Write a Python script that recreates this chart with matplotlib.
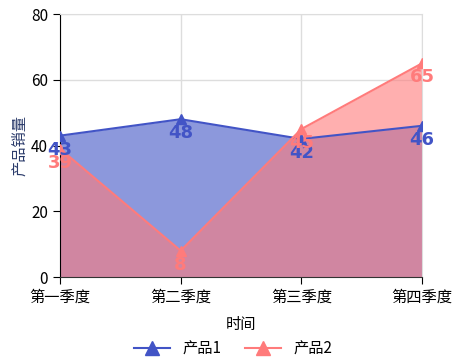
import matplotlib
matplotlib.use("Agg")
import matplotlib.pyplot as plt

plt.rcParams['font.family'] = ['Noto Sans CJK SC', 'DejaVu Sans']

quarters = ["第一季度", "第二季度", "第三季度", "第四季度"]
product1 = [43, 48, 42, 46]
product2 = [39, 8, 45, 65]
series_names = ["产品1", "产品2"]

BLUE = "#4254c6"
RED = "#ff7b7b"

fig = plt.figure(figsize=(4.66, 3.62), dpi=100)
ax = fig.add_axes([0.1288, 0.2348, 0.7768, 0.7265])

x = list(range(len(quarters)))

ax.fill_between(x, product1, color="#8c98dc", zorder=1, linewidth=0)
ax.fill_between(x, product2, color=RED, alpha=0.6, zorder=2, linewidth=0)
ax.plot(x, product1, color=BLUE, lw=1.5, marker="^", ms=7, label=series_names[0], zorder=3)
ax.plot(x, product2, color=RED, lw=1.5, marker="^", ms=7, label=series_names[1], zorder=4)

# 数据标签：点的下方
for xi, v in zip(x, product1):
    ax.text(xi, v - 1.5, str(v), color=BLUE, fontsize=13, fontweight="heavy",
            ha="center", va="top", family="DejaVu Sans", zorder=5)
for xi, v in zip(x, product2):
    ax.text(xi, v - 1.5, str(v), color=RED, fontsize=13, fontweight="heavy",
            ha="center", va="top", family="DejaVu Sans", zorder=6)

ax.set_xlim(0, 3)
ax.set_ylim(0, 80)
ax.set_yticks([0, 20, 40, 60, 80])
ax.set_xticks(x)
ax.set_xticklabels(quarters, fontsize=11)
ax.tick_params(axis="y", labelsize=11, length=5)
ax.tick_params(axis="x", length=5)
ax.grid(True, color="#dddddd", lw=1, zorder=0)
ax.set_axisbelow(True)

for side in ("top", "right"):
    ax.spines[side].set_color("#dddddd")
ax.spines["left"].set_color("black")
ax.spines["bottom"].set_color("#333333")

ax.set_xlabel("时间", fontsize=11, labelpad=7)
ax.set_ylabel("产品销量", fontsize=11, color="#2a3a6a", labelpad=2)

fig.legend(loc="lower center", ncol=2, frameon=False, fontsize=11,
           bbox_to_anchor=(0.5, -0.025), handlelength=2.4, columnspacing=1.5,
           markerscale=1.4)

fig.savefig("out.png", dpi=100)
